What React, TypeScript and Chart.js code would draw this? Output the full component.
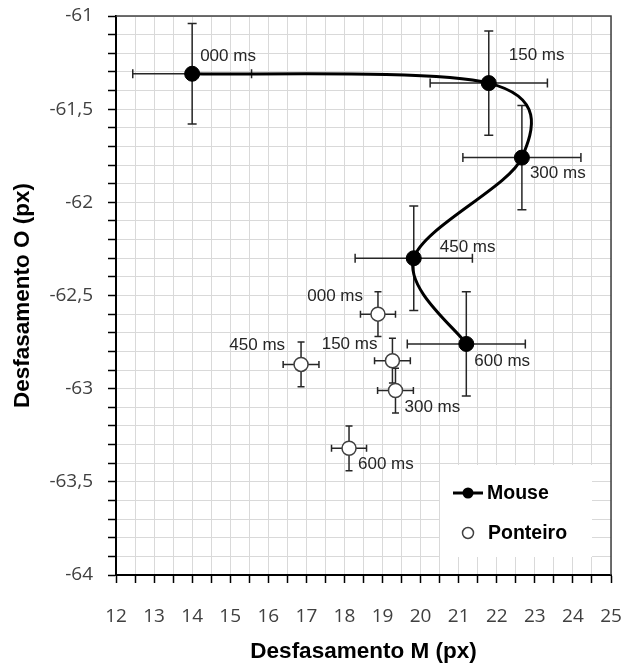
import React, { useEffect, useRef } from 'react';
import { Chart, registerables } from 'chart.js';

Chart.register(...registerables);

// ---------- data ----------
const timeLabels = ['000 ms', '150 ms', '300 ms', '450 ms', '600 ms'];
const seriesNames = ['Mouse', 'Ponteiro'];

const mouseM = [14.0, 21.79, 22.66, 19.82, 21.2];
const mouseO = [-61.31, -61.36, -61.76, -62.3, -62.76];
const mouseErrM = [1.56, 1.54, 1.55, 1.54, 1.55];
const mouseErrO = [0.27, 0.28, 0.28, 0.28, 0.28];

const pointerM = [18.88, 19.26, 19.34, 16.86, 18.12];
const pointerO = [-62.6, -62.85, -63.01, -62.87, -63.32];
const pointerErrM = [0.46, 0.47, 0.47, 0.47, 0.46];
const pointerErrO = [0.12, 0.12, 0.12, 0.12, 0.12];

const xMin = 12;
const xMax = 25;
const xStep = 0.5;
const yMin = -64;
const yMax = -61;
const yStep = 0.1;

const xTitle = 'Desfasamento M (px)';
const yTitle = 'Desfasamento O (px)';

// ---------- styles ----------
const mouseLabelPlacement = [
  { dx: 8, dy: -17, align: 'left' },
  { dx: 20, dy: -28, align: 'left' },
  { dx: 8, dy: 16, align: 'left' },
  { dx: 26, dy: -11, align: 'left' },
  { dx: 8, dy: 17, align: 'left' },
];
const pointerLabelPlacement = [
  { dx: -15, dy: -18, align: 'right' },
  { dx: -15, dy: -16, align: 'right' },
  { dx: 9, dy: 17, align: 'left' },
  { dx: -16, dy: -19, align: 'right' },
  { dx: 9, dy: 16, align: 'left' },
];

const TICK_FONT = '"Open Sans", sans-serif';
const LABEL_FONT = '"Liberation Sans", Arial, sans-serif';

const errorBarPlugin = {
  id: 'errorBars',
  beforeDatasetsDraw(chart: any) {
    const { ctx } = chart;
    const xs = chart.scales.x;
    const ys = chart.scales.y;
    const drawSet = (mx: number[], oy: number[], em: number[], eo: number[], cap: number) => {
      for (let i = 0; i < mx.length; i++) {
        const cx = xs.getPixelForValue(mx[i]);
        const cy = ys.getPixelForValue(oy[i]);
        const x1 = xs.getPixelForValue(mx[i] - em[i]);
        const x2 = xs.getPixelForValue(mx[i] + em[i]);
        const y1 = ys.getPixelForValue(oy[i] + eo[i]);
        const y2 = ys.getPixelForValue(oy[i] - eo[i]);
        ctx.beginPath();
        ctx.moveTo(x1, cy); ctx.lineTo(x2, cy);
        ctx.moveTo(x1, cy - cap); ctx.lineTo(x1, cy + cap);
        ctx.moveTo(x2, cy - cap); ctx.lineTo(x2, cy + cap);
        ctx.moveTo(cx, y1); ctx.lineTo(cx, y2);
        ctx.moveTo(cx - cap, y1); ctx.lineTo(cx + cap, y1);
        ctx.moveTo(cx - cap, y2); ctx.lineTo(cx + cap, y2);
        ctx.stroke();
      }
    };
    ctx.save();
    ctx.strokeStyle = '#262626';
    ctx.lineWidth = 1.5;
    drawSet(mouseM, mouseO, mouseErrM, mouseErrO, 4.5);
    drawSet(pointerM, pointerO, pointerErrM, pointerErrO, 3.5);
    ctx.restore();
  },
};

// Excel-like (Catmull-Rom) smoothing for the Mouse line
const excelSmoothPlugin = {
  id: 'excelSmooth',
  beforeDatasetDraw(chart: any, args: any) {
    if (args.index !== 0) return;
    const meta = args.meta;
    const line = meta.dataset;
    const pts = meta.data;
    if (!line || !pts || !pts.length) return;
    if (typeof line.updateControlPoints === 'function') line.updateControlPoints(chart.chartArea, 'x');
    const n = pts.length;
    for (let i = 0; i < n; i++) {
      const prev = pts[Math.max(0, i - 1)];
      const next = pts[Math.min(n - 1, i + 1)];
      const tx = (next.x - prev.x) / 6;
      const ty = (next.y - prev.y) / 6;
      pts[i].cp1x = pts[i].x - tx;
      pts[i].cp1y = pts[i].y - ty;
      pts[i].cp2x = pts[i].x + tx;
      pts[i].cp2y = pts[i].y + ty;
    }
    line._pointsUpdated = true;
    line._path = undefined;
  },
};

const pointLabelPlugin = {
  id: 'pointLabels',
  afterDatasetsDraw(chart: any) {
    const { ctx } = chart;
    const xs = chart.scales.x;
    const ys = chart.scales.y;
    ctx.save();
    ctx.font = `17px ${LABEL_FONT}`;
    ctx.fillStyle = '#262626';
    ctx.textBaseline = 'middle';
    const drawSet = (mx: number[], oy: number[], place: any[]) => {
      for (let i = 0; i < mx.length; i++) {
        const px = xs.getPixelForValue(mx[i]);
        const py = ys.getPixelForValue(oy[i]);
        ctx.textAlign = place[i].align;
        ctx.fillText(timeLabels[i], px + place[i].dx, py + place[i].dy);
      }
    };
    drawSet(mouseM, mouseO, mouseLabelPlacement);
    drawSet(pointerM, pointerO, pointerLabelPlacement);
    ctx.restore();
  },
};

const legendPlugin = {
  id: 'insideLegend',
  afterDatasetsDraw(chart: any) {
    const { ctx, chartArea } = chart;
    const left = chartArea.right - 171;
    const top = chartArea.bottom - 110;
    ctx.save();
    ctx.fillStyle = '#ffffff';
    ctx.fillRect(left, top, 152, 92);
    const y1 = top + 28;
    const y2 = top + 68;
    const mx = left + 28;
    ctx.strokeStyle = '#000';
    ctx.lineWidth = 3;
    ctx.beginPath();
    ctx.moveTo(left + 13, y1);
    ctx.lineTo(left + 43, y1);
    ctx.stroke();
    ctx.fillStyle = '#000';
    ctx.beginPath();
    ctx.arc(mx, y1, 5.5, 0, Math.PI * 2);
    ctx.fill();
    ctx.fillStyle = '#fff';
    ctx.strokeStyle = '#404040';
    ctx.lineWidth = 1.5;
    ctx.beginPath();
    ctx.arc(mx, y2, 5.5, 0, Math.PI * 2);
    ctx.fill();
    ctx.stroke();
    ctx.fillStyle = '#000';
    ctx.font = `bold 19.5px ${LABEL_FONT}`;
    ctx.textAlign = 'left';
    ctx.textBaseline = 'middle';
    ctx.fillText(seriesNames[0], left + 47, y1 + 1);
    ctx.fillText(seriesNames[1], left + 48, y2 + 1);
    ctx.restore();
  },
};

const framePlugin = {
  id: 'frame',
  afterDraw(chart: any) {
    const { ctx, chartArea } = chart;
    ctx.save();
    ctx.strokeStyle = '#404040';
    ctx.lineWidth = 1.5;
    ctx.beginPath();
    ctx.moveTo(chartArea.left, chartArea.top);
    ctx.lineTo(chartArea.right, chartArea.top);
    ctx.lineTo(chartArea.right, chartArea.bottom);
    ctx.stroke();
    ctx.restore();
  },
};

const isMultiple = (v: number, step: number) => Math.abs(v / step - Math.round(v / step)) < 1e-6;

export default function App() {
  const ref = useRef<HTMLCanvasElement>(null);

  useEffect(() => {
    const canvas = ref.current;
    if (!canvas) return;
    const chart = new Chart(canvas, {
      type: 'scatter',
      data: {
        datasets: [
          {
            label: seriesNames[0],
            data: mouseM.map((m, i) => ({ x: m, y: mouseO[i] })),
            showLine: true,
            tension: 0.4,
            borderColor: '#000000',
            borderWidth: 3,
            pointRadius: 7.5,
            pointBackgroundColor: '#000000',
            pointBorderColor: '#000000',
            pointBorderWidth: 1,
          },
          {
            label: seriesNames[1],
            data: pointerM.map((m, i) => ({ x: m, y: pointerO[i] })),
            showLine: false,
            pointRadius: 7,
            pointBackgroundColor: '#ffffff',
            pointBorderColor: '#404040',
            pointBorderWidth: 1.5,
          },
        ],
      },
      options: {
        responsive: false,
        animation: false,
        devicePixelRatio: 1,
        layout: { padding: { top: 16, right: 10, left: 0, bottom: 0 } },
        plugins: {
          legend: { display: false },
          tooltip: { enabled: false },
        },
        scales: {
          x: {
            type: 'linear',
            min: xMin,
            max: xMax,
            afterFit: (scale: any) => {
              scale.height = 90;
              scale.paddingLeft = 0;
              scale.paddingRight = 0;
            },
            ticks: {
              stepSize: xStep,
              autoSkip: false,
              maxRotation: 0,
              padding: 22,
              color: '#404040',
              font: { family: TICK_FONT, size: 19 },
              callback: (v: any) => (isMultiple(Number(v), 1) ? String(Math.round(Number(v))) : ''),
            },
            grid: {
              color: '#d9d9d9',
              lineWidth: 1,
              drawTicks: true,
              tickLength: 8,
              tickColor: '#000000',
              tickWidth: 1.5,
            },
            border: { display: true, color: '#000000', width: 2 },
            title: {
              display: true,
              text: xTitle,
              color: '#000000',
              font: { family: LABEL_FONT, size: 22.5, weight: 'bold' },
              padding: { top: 0, bottom: 0 },
            },
          },
          y: {
            type: 'linear',
            min: yMin,
            max: yMax,
            afterFit: (scale: any) => {
              scale.width = 116;
              scale.paddingTop = 0;
              scale.paddingBottom = 0;
            },
            ticks: {
              stepSize: yStep,
              autoSkip: false,
              maxTicksLimit: 100,
              padding: 15,
              color: '#404040',
              font: { family: TICK_FONT, size: 19 },
              callback: (v: any) => (isMultiple(Number(v), 0.5) ? String(Math.round(Number(v) * 10) / 10).replace('.', ',') : ''),
            },
            grid: {
              color: '#d9d9d9',
              lineWidth: 1,
              drawTicks: true,
              tickLength: 8,
              tickColor: '#000000',
              tickWidth: 1.5,
            },
            border: { display: true, color: '#000000', width: 2 },
            title: {
              display: true,
              text: yTitle,
              color: '#000000',
              font: { family: LABEL_FONT, size: 22.5, weight: 'bold' },
              padding: { top: 9, bottom: 0 },
            },
          },
        },
      },
      plugins: [errorBarPlugin, excelSmoothPlugin, pointLabelPlugin, legendPlugin, framePlugin],
    } as any);
    return () => chart.destroy();
  }, []);

  return (
    <div style={{ position: 'fixed', left: 0, top: 0, width: 621, height: 665, background: '#ffffff' }}>
      <canvas ref={ref} width={621} height={665} style={{ display: 'block', width: 621, height: 665 }} />
    </div>
  );
}
